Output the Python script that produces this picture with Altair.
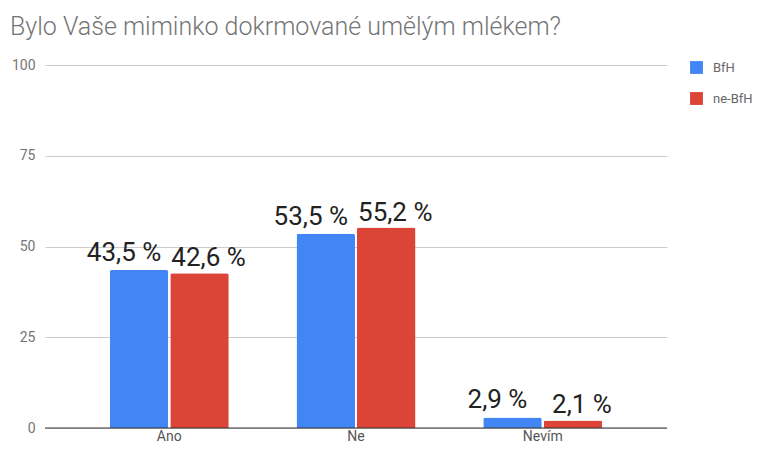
import altair as alt
import pandas as pd

categories = ["Ano", "Ne", "Nevím"]
series = ["BfH", "ne-BfH"]
bfh_values = [43.5, 53.5, 2.9]
nebfh_values = [42.6, 55.2, 2.1]
y_ticks = [0, 25, 50, 75, 100]
colors = ["#4285F4", "#DB4437"]

rows = []
for c, v in zip(categories, bfh_values):
    rows.append({"cat": c, "series": "BfH", "value": v})
for c, v in zip(categories, nebfh_values):
    rows.append({"cat": c, "series": "ne-BfH", "value": v})
df = pd.DataFrame(rows)
df["label"] = df["value"].map(lambda v: f"{v:.1f}".replace(".", ",") + " %")

FONT = "Roboto"

x = alt.X("cat:N", sort=categories, title=None,
          scale=alt.Scale(paddingInner=0.363, paddingOuter=0.347),
          axis=alt.Axis(labelAngle=0, domain=False, ticks=False, grid=False,
                        labelColor="#555555", labelFontSize=14, labelFont=FONT,
                        labelPadding=1))
y = alt.Y("value:Q", title=None,
          scale=alt.Scale(domain=[0, 100], nice=False),
          axis=alt.Axis(values=y_ticks, domain=False, ticks=False, grid=True,
                        gridColor="#cccccc", labelColor="#757575", labelFontSize=14,
                        labelFont=FONT, labelPadding=10))
xo = alt.XOffset("series:N", sort=series, scale=alt.Scale(paddingInner=0.033))
color = alt.Color("series:N", sort=series,
                  scale=alt.Scale(domain=series, range=colors),
                  legend=alt.Legend(title=None, orient="none", legendX=645, legendY=-4,
                                    symbolType="square", symbolSize=165, symbolStrokeWidth=0,
                                    labelFont=FONT, labelFontSize=13, labelColor="#666666",
                                    rowPadding=17, labelOffset=10))

base = alt.Chart(df)
bars = base.mark_bar(cornerRadiusTopLeft=2, cornerRadiusTopRight=2).encode(
    x=x, y=y, xOffset=xo, color=color)
text_b = base.transform_filter(alt.datum.series == "BfH").mark_text(
    dy=-9, dx=-15, fontSize=26, font=FONT, color="#222222", baseline="alphabetic").encode(
    x=x, y=y, xOffset=xo, text="label:N")
text_r = base.transform_filter(alt.datum.series == "ne-BfH").mark_text(
    dy=-7, dx=9, fontSize=26, font=FONT, color="#222222", baseline="alphabetic").encode(
    x=x, y=y, xOffset=xo, text="label:N")
baseline = alt.Chart(pd.DataFrame({"v": [0]})).mark_rule(color="#333333", strokeWidth=1).encode(
    y="v:Q")

chart = alt.layer(bars, text_b, text_r, baseline).properties(
    width=622, height=363,
    autosize=alt.AutoSizeParams(type="none"),
    padding={"left": 37, "top": 57, "right": 86, "bottom": 14},
    title=alt.TitleParams("Bylo Vaše miminko dokrmované umělým mlékem?", anchor="start",
                          frame="group", font=FONT, fontSize=25, fontWeight=300,
                          color="#757575", offset=18, dx=-35),
).configure_view(stroke=None)

chart.save("out.html", embed_options={"renderer": "svg", "actions": False})
